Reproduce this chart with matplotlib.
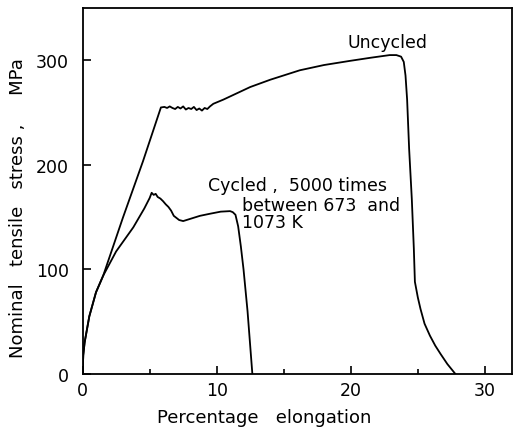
import matplotlib
matplotlib.use("Agg")
import matplotlib.pyplot as plt

# uncycled specimen: elongation (%) and stress (MPa)
uncycled_x = [0.0, 0.05, 0.15, 0.5, 1.0, 1.54, 3.0, 4.5, 5.84,
              6.1, 6.3, 6.5, 6.7, 6.9, 7.1, 7.3, 7.5, 7.7, 7.9, 8.1, 8.3,
              8.5, 8.7, 8.9, 9.1, 9.3, 9.5, 9.75,
              10.5, 11.5, 12.5, 14.0, 16.2, 18.0, 19.95, 21.5, 22.9, 23.4,
              23.75, 23.95, 24.08, 24.2, 24.35, 24.55, 24.7, 24.78,
              25.0, 25.2, 25.5, 25.9, 26.3, 26.7, 27.2, 27.8]
uncycled_y = [0.0, 18, 30, 55, 78, 94, 149, 203, 254.5,
              255, 254, 255.5, 254, 253, 255, 253.5, 255.5, 252.5, 254, 253, 255,
              252, 253.5, 251.5, 254, 253, 255.5, 258,
              262, 268, 274, 281, 290, 295, 299, 302, 304.5, 304.5,
              303, 298, 285, 262, 215, 167, 120, 88,
              73, 62, 48, 36.6, 27, 19, 9.5, 0]

# cycled 5000 times between 673 and 1073 K
cycled_x = [0.0, 0.05, 0.15, 0.5, 1.0, 1.54, 2.5, 3.78, 4.6, 5.0, 5.15,
            5.3, 5.45, 5.6, 5.8, 6.0, 6.2, 6.4, 6.6, 6.8, 7.0, 7.2, 7.5,
            8.0, 8.75, 9.5, 10.3, 11.0, 11.2, 11.4, 11.6, 11.8, 12.0,
            12.3, 12.66]
cycled_y = [0.0, 18, 30, 55, 78, 94, 117, 140, 158, 168, 173,
            171, 172, 169, 167.5, 165, 162, 159.5, 156, 151, 149, 147, 146,
            148, 151, 153, 155, 155.5, 154.5, 152, 141, 122, 100,
            60, 0]

fig = plt.figure(figsize=(5.13, 4.31), dpi=100)
ax = fig.add_axes([0.161, 0.130, 0.8365, 0.848])

ax.plot(uncycled_x, uncycled_y, color="black", lw=1.3)
ax.plot(cycled_x, cycled_y, color="black", lw=1.3)

ax.text(22.7, 317, "Uncycled", ha="center", va="center", fontsize=12.5)
ax.text(9.37, 180, "Cycled ,  5000 times", ha="left", va="center", fontsize=12.5)
ax.text(11.87, 161.7, "between 673  and", ha="left", va="center", fontsize=12.5)
ax.text(11.87, 145, "1073 K", ha="left", va="center", fontsize=12.5)

ax.set_xlim(0, 32)
ax.set_ylim(0, 349)
ax.set_xticks([0, 10, 20, 30])
ax.set_xticks([5, 15, 25], minor=True)
ax.set_yticks([0, 100, 200, 300])
ax.tick_params(which="major", direction="in", length=6, width=1.2,
               labelsize=12.5)
ax.tick_params(axis="x", which="major", pad=5)
ax.tick_params(axis="y", which="major", pad=10)
ax.tick_params(which="minor", direction="in", length=3.5, width=1.2)
for s in ax.spines.values():
    s.set_linewidth(1.3)

ax.set_xlabel("Percentage   elongation", fontsize=13)
ax.set_ylabel("Nominal   tensile   stress ,     MPa", fontsize=13)
ax.xaxis.set_label_coords(0.424, -0.094)
ax.yaxis.set_label_coords(-0.13, 0.457)

fig.savefig("out.png", dpi=100)
